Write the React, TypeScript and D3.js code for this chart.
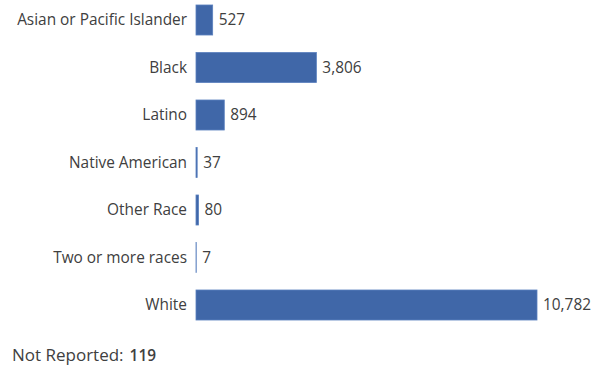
import React from "react";
import * as d3 from "d3";

const categories = [
  "Asian or Pacific Islander",
  "Black",
  "Latino",
  "Native American",
  "Other Race",
  "Two or more races",
  "White",
];
const values = [527, 3806, 894, 37, 80, 7, 10782];
const notReportedLabel = "Not Reported:";
const notReportedValue = 119;

const W = 598;
const H = 366;

export default function App() {
  const x = d3.scaleLinear().domain([0, 10782]).range([196, 537]);
  const y = d3
    .scaleBand<string>()
    .domain(categories)
    .range([-3.75, 328.75])
    .paddingInner(0.368)
    .paddingOuter(0.184);
  const fmt = d3.format(",");
  const font = "'Open Sans', 'Noto Sans', sans-serif";
  return (
    <svg
      width={W}
      height={H}
      style={{ position: "absolute", left: 0, top: 0, background: "#fff" }}
      fontFamily={font}
    >
      {categories.map((c, i) => {
        const y0 = y(c)!;
        const bw = y.bandwidth();
        const w = x(values[i]) - x(0);
        return (
          <g key={c}>
            <text
              x={187}
              y={y0 + bw / 2}
              dy="0.35em"
              textAnchor="end"
              fontSize={15.4}
              fill="#404040"
            >
              {c}
            </text>
            <rect
              x={x(0)}
              y={y0}
              width={Math.max(w, 0.2)}
              height={bw}
              fill="#4067A8"
              stroke="#5a80bf"
              strokeWidth={0.8}
            />
            <text
              x={x(values[i]) + 6}
              y={y0 + bw / 2}
              dy="0.35em"
              fontSize={15.4}
              fill="#404040"
            >
              {fmt(values[i])}
            </text>
          </g>
        );
      })}
      <text x={12} y={361} fontSize={17} fill="#404040">
        {notReportedLabel}
        <tspan dx={6} fontWeight="600" fontSize={15.4}>{notReportedValue}</tspan>
      </text>
    </svg>
  );
}
